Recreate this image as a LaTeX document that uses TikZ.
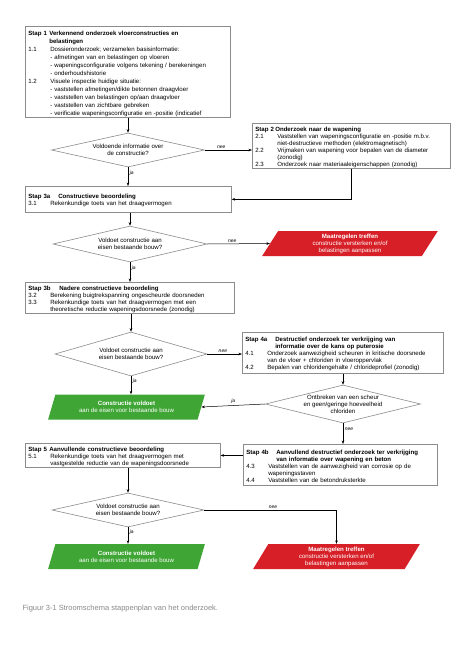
\documentclass[tikz,border=0pt]{standalone}
\usepackage{fontspec}
\setmainfont{Liberation Sans}
\usetikzlibrary{shapes.geometric,arrows.meta}

\definecolor{rand}{HTML}{8C8C8C}
\definecolor{rood}{HTML}{D61F26}
\definecolor{groen}{HTML}{3FA535}
\definecolor{onderschrift}{HTML}{8A8A8A}

% kop: hang, stapnummer, titel
\newcommand{\kop}[3]{\par\noindent\hangindent=#1\hangafter=1\makebox[#1][l]{\textbf{#2}}\textbf{#3}\par}
\newcommand{\punt}[2]{\par\noindent\hangindent=22pt\hangafter=1\makebox[22pt][l]{#1}#2\par}
\newcommand{\sub}[1]{\par\noindent\hspace*{22pt}#1\par}

\begin{document}
\begin{tikzpicture}[x=1pt, y=-1pt,
    stapbox/.style={draw=rand, line width=0.6pt, anchor=north west, align=left,
                    inner xsep=3pt, inner ysep=1pt, font=\fontsize{6.1}{7}\selectfont},
    vraag/.style={draw=rand, line width=0.6pt, shape=diamond, aspect=4.5, inner sep=-3pt,
                  align=center, font=\fontsize{6.1}{7}\selectfont},
    uitkomst/.style={shape=trapezium, trapezium left angle=67, trapezium right angle=113,
                     trapezium stretches=true, text=white, align=center, inner sep=0pt,
                     minimum height=25pt, font=\fontsize{6.1}{7}\selectfont},
    voldoet/.style={uitkomst, fill=groen},
    maatregel/.style={uitkomst, fill=rood},
    pijl/.style={-{Stealth[length=3.5pt,width=2.6pt]}, line width=0.5pt},
    antw/.style={font=\fontsize{5}{6}\selectfont\itshape, inner sep=1.5pt}]

    \fill[white] (0,0) rectangle (474,646);
    \useasboundingbox (0,0) rectangle (474,646);

    % stappen
    \node[stapbox, minimum width=205pt, minimum height=91pt, text width=199pt,
          font=\fontsize{6.1}{8}\selectfont] (stap1) at (25,26) {%
        \kop{21pt}{Stap 1}{Verkennend onderzoek vloerconstructies en\newline belastingen}
        \punt{1.1}{Dossieronderzoek; verzamelen basisinformatie:}
        \sub{- afmetingen van en belastingen op vloeren}
        \sub{- wapeningsconfiguratie volgens tekening / berekeningen}
        \sub{- onderhoudshistorie}
        \punt{1.2}{Visuele inspectie huidige situatie:}
        \sub{- vaststellen afmetingen/dikte betonnen draagvloer}
        \sub{- vaststellen van belastingen op/aan draagvloer}
        \sub{- vaststellen van zichtbare gebreken}
        \sub{- verificatie wapeningsconfiguratie en -positie (indicatief}};
    \node[stapbox, minimum width=198pt, minimum height=44pt, text width=192pt] (stap2) at (252,123) {%
        \kop{20pt}{Stap 2}{Onderzoek naar de wapening}
        \punt{2.1}{Vaststellen van wapeningsconfiguratie en -positie m.b.v.\newline niet-destructieve methoden (elektromagnetisch)}
        \punt{2.2}{Vrijmaken van wapening voor bepalen van de diameter\newline (zonodig)}
        \punt{2.3}{Onderzoek naar materiaaleigenschappen (zonodig)}};
    \node[stapbox, minimum width=206pt, minimum height=26pt, text width=200pt] (stap3a) at (25,186) {%
        \kop{30pt}{Stap 3a}{Constructieve beoordeling}
        \punt{3.1}{Rekenkundige toets van het draagvermogen}};
    \node[stapbox, minimum width=209pt, minimum height=31pt, text width=203pt] (stap3b) at (25,282) {%
        \kop{31pt}{Stap 3b}{Nadere constructieve beoordeling}
        \punt{3.2}{Berekening buigtrekspanning ongescheurde doorsneden}
        \punt{3.3}{Rekenkundige toets van het draagvermogen met een\newline theoretische reductie wapeningsdoorsnede (zonodig)}};
    \node[stapbox, minimum width=201pt, minimum height=41pt, text width=195pt] (stap4a) at (242,332) {%
        \kop{30pt}{Stap 4a}{Destructief onderzoek ter verkrijging van\newline informatie over de kans op puterosie}
        \punt{4.1}{Onderzoek aanwezigheid scheuren in kritische doorsnede\newline van de vloer + chloriden in vloeroppervlak}
        \punt{4.2}{Bepalen van chloridengehalte / chlorideprofiel (zonodig)}};
    \node[stapbox, minimum width=194pt, minimum height=41pt, text width=188pt] (stap4b) at (243,444) {%
        \kop{30pt}{Stap 4b}{Aanvullend destructief onderzoek ter verkrijging\newline van informatie over wapening en beton}
        \punt{4.3}{Vaststellen van de aanwezigheid van corrosie op de\newline wapeningsstaven}
        \punt{4.4}{Vaststellen van de betondruksterkte}};
    \node[stapbox, minimum width=195pt, minimum height=21pt, text width=189pt] (stap5) at (25,443) {%
        \kop{21pt}{Stap 5}{Aanvullende constructieve beoordeling}
        \punt{5.1}{Rekenkundige toets van het draagvermogen met\newline vastgestelde reductie van de wapeningsdoorsnede}};

    % vragen
    \node[vraag, minimum width=153pt, minimum height=34pt] (d1) at (128,150) {Voldoende informatie over\\de constructie?};
    \node[vraag, minimum width=154pt, minimum height=36pt] (d2) at (130,244) {Voldoet constructie aan\\eisen bestaande bouw?};
    \node[vraag, minimum width=152pt, minimum height=44pt] (d3) at (131,354) {Voldoet constructie aan\\eisen bestaande bouw?};
    \node[vraag, minimum width=155pt, minimum height=38pt] (d4) at (343,404) {Ontbreken van een scheur\\en geen/geringe hoeveelheid\\chloriden};
    \node[vraag, minimum width=152pt, minimum height=34pt] (d5) at (128,510) {Voldoet constructie aan\\eisen bestaande bouw?};

    % uitkomsten
    \node[maatregel, minimum width=176pt] (rood1) at (350,243.5) {\textbf{Maatregelen treffen}\\constructie versterken en/of\\belastingen aanpassen};
    \node[voldoet, minimum width=157pt] (groen1) at (126.5,407) {\textbf{Constructie voldoet}\\aan de eisen voor bestaande bouw};
    \node[voldoet, minimum width=157pt] (groen2) at (126.5,556.5) {\textbf{Constructie voldoet}\\aan de eisen voor bestaande bouw};
    \node[maatregel, minimum width=167pt] (rood2) at (336.5,556.5) {\textbf{Maatregelen treffen}\\constructie versterken en/of\\belastingen aanpassen};

    % verbindingen
    \draw[pijl] (stap1.south -| d1.north) -- (d1.north);
    \draw[pijl] (d1.east) -- (d1.east -| stap2.west) node[antw, pos=0.35, above] {nee};
    \draw[pijl] (stap2.south) |- (stap3a.east);
    \draw[pijl] (d1.south) -- (d1.south |- stap3a.north) node[antw, pos=0.3, right] {ja};
    \draw[pijl] (stap3a.south -| d2.north) -- (d2.north);
    \draw[pijl] (d2.east) -- (rood1.west) node[antw, pos=0.4, above] {nee};
    \draw[pijl] (d2.south) -- (d2.south |- stap3b.north) node[antw, pos=0.3, right] {ja};
    \draw[pijl] (stap3b.south -| d3.north) -- (d3.north);
    \draw[pijl] (d3.east) -- (d3.east -| stap4a.west) node[antw, pos=0.45, above] {nee};
    \draw[pijl] (d3.south) -- (d3.south |- groen1.north) node[antw, pos=0.3, right] {ja};
    \draw[pijl] (stap4a.south -| d4.north) -- (d4.north);
    \draw[pijl] (d4.west) -- (groen1.east) node[antw, pos=0.5, above] {ja};
    \draw[pijl] (d4.south) -- (d4.south |- stap4b.north) node[antw, pos=0.3, right] {nee};
    \draw[pijl] (stap4b.west |- stap5.east) -- (stap5.east);
    \draw[pijl] (stap5.south -| d5.north) -- (d5.north);
    \draw[pijl] (d5.east) -| (rood2.north) node[antw, pos=0.26, above] {nee};
    \draw[pijl] (d5.south) -- (d5.south |- groen2.north) node[antw, pos=0.3, right] {ja};

    \node[anchor=west, text=onderschrift, font=\fontsize{7.5}{8}\selectfont] (bijschrift) at (19,609)
        {Figuur 3-1 Stroomschema stappenplan van het onderzoek.};
\end{tikzpicture}
\end{document}
